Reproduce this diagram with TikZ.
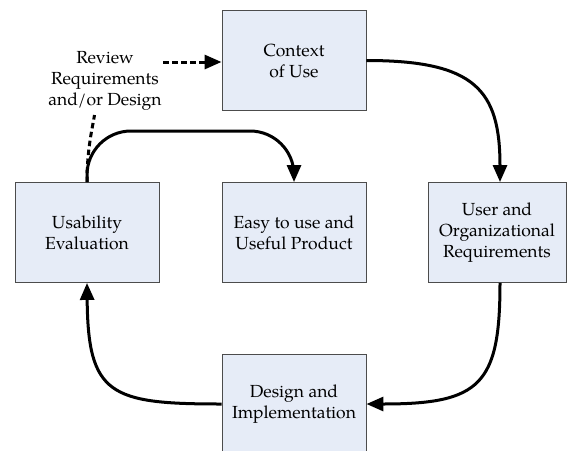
\documentclass[tikz,border=0pt]{standalone}
\usepackage{fontspec}
\setmainfont{TeX Gyre Pagella}
\usetikzlibrary{arrows.meta}
\begin{document}
\begin{tikzpicture}[x=1pt,y=-1pt,
  stage/.style={draw=black!70,line width=0.9pt,fill={rgb,255:red,230;green,236;blue,247},
    minimum width=144pt,minimum height=100pt,inner sep=0pt,align=center,
    font=\fontsize{17.5}{21}\selectfont},
  tip/.style={-{Triangle[length=17pt,width=14pt]}},
  flow/.style={line width=3pt,tip},
  hint/.style={line width=3pt,dash pattern=on 5.5pt off 3.5pt}]
\useasboundingbox (0,0) rectangle (567,450);
% process stages
\node[stage] (ctx) at (294,60.5) {Context\\of Use};
\node[stage] (eval) at (87,232.5) {Usability\\Evaluation};
\node[stage] (prod) at (294,232.5) {Easy to use and\\Useful Product};
\node[stage,minimum width=138pt] (req) at (497,232.5) {User and\\Organizational\\Requirements};
\node[stage] (des) at (294,404) {Design and\\Implementation};
\node[align=center,font=\fontsize{17.5}{21}\selectfont,inner sep=0pt] (rev) at (105,81) {Review\\Requirements\\and/or Design};
% main cycle
\draw[flow] (ctx.east) .. controls (475,60.5) and (500,90) .. (req.north -| 500,0);
\draw[flow] (req.south -| 500,0) .. controls (500,385) and (480,404) .. (des.east);
\draw[flow] (des.west) .. controls (110,404) and (88,395) .. (eval.south);
\draw[flow,rounded corners=44pt] (eval.north) |- (294,131) -- (prod.north);
% review feedback
\coordinate (revfoot) at (94.5,115);
\draw[hint] (eval.north) .. controls (87,150) and (92,130) .. (revfoot);
\coordinate (revtail) at (163,62);
\draw[hint,tip] (revtail) -- (ctx.west |- revtail);
\end{tikzpicture}
\end{document}
